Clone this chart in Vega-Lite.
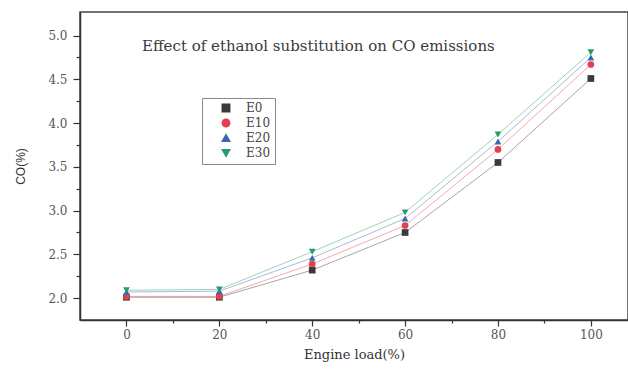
{
  "$schema": "https://vega.github.io/schema/vega-lite/v6.json",
  "width": 548,
  "height": 308,
  "autosize": {"type": "none"},
  "padding": {"left": 80, "top": 12, "right": 0, "bottom": 49},
  "background": "#ffffff",
  "title": {
    "text": "Effect of ethanol substitution on CO emissions",
    "anchor": "start",
    "frame": "group",
    "orient": "top",
    "offset": -42,
    "dx": 62,
    "font": "DejaVu Serif",
    "fontSize": 15,
    "fontWeight": "normal",
    "color": "#3a3a3a"
  },
  "config": {
    "view": {"stroke": "#444444", "strokeWidth": 1.5},
    "axis": {
      "grid": false,
      "domainColor": "#333333",
      "domainWidth": 1.5,
      "tickColor": "#333333",
      "tickWidth": 1.2,
      "labelFont": "DejaVu Serif",
      "labelFontSize": 12,
      "labelColor": "#555555",
      "titleFontWeight": "normal",
      "titleColor": "#333333"
    },
    "legend": {
      "orient": "none",
      "legendX": 122,
      "legendY": 86,
      "strokeColor": "#888888",
      "padding": 4,
      "labelFont": "DejaVu Serif",
      "labelFontSize": 12,
      "labelColor": "#444444",
      "rowPadding": 1,
      "symbolSize": 55,
      "symbolOffset": 14,
      "symbolOpacity": 1,
      "labelOffset": 14
    }
  },
  "data": {
    "values": [
      {"load": 0, "fuel": "E0", "co": 2.01},
      {"load": 20, "fuel": "E0", "co": 2.01},
      {"load": 40, "fuel": "E0", "co": 2.32},
      {"load": 60, "fuel": "E0", "co": 2.75},
      {"load": 80, "fuel": "E0", "co": 3.55},
      {"load": 100, "fuel": "E0", "co": 4.51},
      {"load": 0, "fuel": "E10", "co": 2.02},
      {"load": 20, "fuel": "E10", "co": 2.02},
      {"load": 40, "fuel": "E10", "co": 2.39},
      {"load": 60, "fuel": "E10", "co": 2.83},
      {"load": 80, "fuel": "E10", "co": 3.70},
      {"load": 100, "fuel": "E10", "co": 4.67},
      {"load": 0, "fuel": "E20", "co": 2.07},
      {"load": 20, "fuel": "E20", "co": 2.08},
      {"load": 40, "fuel": "E20", "co": 2.46},
      {"load": 60, "fuel": "E20", "co": 2.91},
      {"load": 80, "fuel": "E20", "co": 3.79},
      {"load": 100, "fuel": "E20", "co": 4.75},
      {"load": 0, "fuel": "E30", "co": 2.09},
      {"load": 20, "fuel": "E30", "co": 2.10},
      {"load": 40, "fuel": "E30", "co": 2.53},
      {"load": 60, "fuel": "E30", "co": 2.98},
      {"load": 80, "fuel": "E30", "co": 3.87},
      {"load": 100, "fuel": "E30", "co": 4.81}
    ]
  },
  "encoding": {
    "x": {
      "field": "load",
      "type": "quantitative",
      "scale": {"domain": [-10, 108], "nice": false, "zero": false},
      "axis": {
        "title": "Engine load(%)",
        "titleFont": "DejaVu Serif",
        "titleFontSize": 13,
        "titlePadding": 8,
        "values": [0, 10, 20, 30, 40, 50, 60, 70, 80, 90, 100],
        "labelExpr": "datum.value % 20 == 0 ? datum.label : ''",
        "tickSize": {"condition": {"test": "datum.value % 20 == 0", "value": 6}, "value": 3},
        "labelPadding": 3
      }
    },
    "y": {
      "field": "co",
      "type": "quantitative",
      "scale": {"domain": [1.75, 5.27], "nice": false, "zero": false},
      "axis": {
        "title": "CO(%)",
        "titleFont": "Liberation Sans",
        "titleFontSize": 12,
        "titlePadding": 20,
        "values": [2.0, 2.25, 2.5, 2.75, 3.0, 3.25, 3.5, 3.75, 4.0, 4.25, 4.5, 4.75, 5.0],
        "format": ".1f",
        "labelExpr": "(datum.value * 2) % 1 == 0 ? datum.label : ''",
        "tickSize": {"condition": {"test": "(datum.value * 2) % 1 == 0", "value": 7}, "value": 4},
        "labelPadding": 6
      }
    },
    "color": {
      "field": "fuel",
      "type": "nominal",
      "title": null,
      "scale": {"domain": ["E0", "E10", "E20", "E30"], "range": ["#3a3a3a", "#e2404f", "#3868b0", "#2a9a68"]}
    }
  },
  "layer": [
    {
      "mark": {"type": "line", "strokeWidth": 1, "strokeOpacity": 0.45}
    },
    {
      "mark": {"type": "point", "filled": true, "size": 45, "opacity": 1},
      "encoding": {
        "shape": {
          "field": "fuel",
          "type": "nominal",
          "title": null,
          "scale": {"domain": ["E0", "E10", "E20", "E30"], "range": ["square", "circle", "triangle-up", "triangle-down"]}
        }
      }
    }
  ]
}
